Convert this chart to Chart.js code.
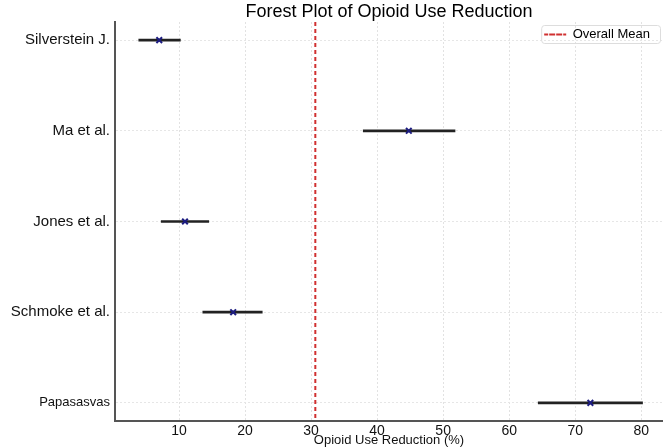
<!DOCTYPE html>
<html>
<head>
<meta charset="utf-8">
<script src="https://cdn.jsdelivr.net/npm/chart.js@4.4.0/dist/chart.umd.min.js"></script>
<style>
  html, body { margin: 0; padding: 0; background: #fff; }
  #wrap { width: 663px; height: 448px; }
</style>
</head>
<body>
<div id="wrap"><canvas id="chart1"></canvas></div>
<script>
// Study data
const studies = ['Silverstein J.', 'Ma et al.', 'Jones et al.', 'Schmoke et al.', 'Papasasvas'];
const means = [7.0, 44.8, 10.9, 18.2, 72.3];
const ciLow = [3.9, 37.9, 7.3, 13.6, 64.4];
const ciHigh = [10.2, 51.8, 14.5, 22.6, 80.2];
const xTicks = [10, 20, 30, 40, 50, 60, 70, 80];

const overallMean = means.reduce((a, b) => a + b, 0) / means.length;

// put the title over the plot area, and the legend in its top right corner
const placeBoxes = {
    id: 'placeBoxes',
    afterLayout(chart) {
        const area = chart.chartArea;
        if (chart.titleBlock) {
            chart.titleBlock.left = area.left;
            chart.titleBlock.right = area.right;
        }
        const lg = chart.legend;
        if (lg) {
            lg.left = area.right - lg.width - 3;
            lg.right = area.right - 3;
            lg.top = area.top + 3;
            lg.bottom = lg.top + lg.height;
        }
    }
};

// light frame around the legend, like matplotlib
const legendFrame = {
    id: 'legendFrame',
    afterDraw(chart) {
        const lg = chart.legend;
        if (!lg) return;
        const ctx = chart.ctx;
        ctx.save();
        ctx.strokeStyle = '#dddddd';
        ctx.lineWidth = 1;
        ctx.beginPath();
        ctx.roundRect(lg.left + 0.5, lg.top + 0.5, lg.width, 18, 3);
        ctx.stroke();
        ctx.restore();
    }
};

const ctx = document.getElementById('chart1').getContext('2d');
const myChart = new Chart(ctx, {
    data: {
        datasets: [
            {
                type: 'bar',
                label: 'CI',
                indexAxis: 'y',
                data: studies.map((s, i) => ({ x: [ciLow[i], ciHigh[i]], y: i })),
                backgroundColor: '#222222',
                barThickness: 2,
                order: 2
            },
            {
                type: 'scatter',
                label: 'Mean',
                data: studies.map((s, i) => ({ x: means[i], y: i })),
                pointStyle: 'crossRot',
                pointRadius: 4,
                borderColor: '#1c1c80',
                borderWidth: 2,
                order: 1
            },
            {
                type: 'line',
                label: 'Overall Mean',
                data: [{ x: overallMean, y: -0.2 }, { x: overallMean, y: 4.2 }],
                borderColor: '#d03030',
                backgroundColor: '#d03030',
                borderDash: [4, 3],
                borderWidth: 2,
                pointRadius: 0,
                order: 0
            }
        ]
    },
    options: {
        responsive: true,
        maintainAspectRatio: false,
        animation: false,
        layout: { autoPadding: false, padding: 0 },
        plugins: {
            title: {
                display: true,
                text: 'Forest Plot of Opioid Use Reduction',
                color: '#000',
                font: { family: 'Liberation Sans', size: 18, weight: 'normal', lineHeight: 1.0 },
                padding: { top: 3, bottom: 1 }
            },
            legend: {
                position: 'chartArea',
                align: 'start',
                labels: {
                    filter: item => item.text === 'Overall Mean',
                    color: '#000',
                    font: { family: 'Liberation Sans', size: 13 },
                    boxWidth: 22,
                    boxHeight: 0,
                    padding: 3
                }
            },
            tooltip: { enabled: false }
        },
        scales: {
            x: {
                type: 'linear',
                min: 0.3,
                max: 83.3,
                afterBuildTicks: s => { s.ticks = xTicks.map(v => ({ value: v })); },
                afterFit: s => { s.height = 27; },
                ticks: {
                    color: '#111',
                    font: { family: 'Liberation Sans', size: 14 },
                    padding: 2
                },
                grid: { color: '#e2e2e2', lineWidth: 1, drawTicks: false },
                border: { display: true, color: '#555', width: 2, dash: [2, 2] },
                title: {
                    display: true,
                    text: 'Opioid Use Reduction (%)',
                    color: '#111',
                    font: { family: 'Liberation Sans', size: 13 },
                    padding: { top: -3, bottom: 0 }
                }
            },
            y: {
                type: 'linear',
                reverse: true,
                min: -0.2,
                max: 4.2,
                offset: false,
                afterBuildTicks: s => { s.ticks = studies.map((t, i) => ({ value: i })); },
                afterFit: s => { s.width = 115; },
                ticks: {
                    color: '#111',
                    padding: 5,
                    font: c => ({ family: 'Liberation Sans', size: c.index === 4 ? 13 : 15 }),
                    callback: v => studies[v]
                },
                grid: { color: '#e6e6e6', lineWidth: 1, drawTicks: false, offset: false },
                border: { display: true, color: '#555', width: 2, dash: [2, 2] }
            }
        }
    },
    plugins: [placeBoxes, legendFrame]
});
</script>
</body>
</html>
